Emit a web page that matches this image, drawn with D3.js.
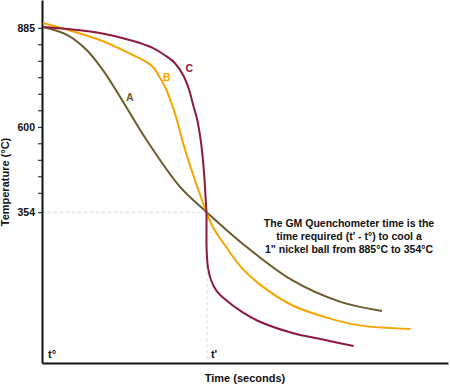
<!DOCTYPE html>
<html>
<head>
<meta charset="utf-8">
<script src="https://cdn.jsdelivr.net/npm/d3@7"></script>
<style>
  body { margin: 0; background: #fff; }
  svg { display: block; }
  text { font-family: "Liberation Sans Narrow", "Liberation Sans", Arial, sans-serif; font-weight: bold; fill: #111; }
</style>
</head>
<body>
<svg id="chart" width="450" height="385"></svg>
<script>
"use strict";

// cooling curves: [time, temperature]
const curveA = [[0.1,887],[2.5,864],[4.4,821],[6.0,763],[7.7,686],[10.3,562],[13.6,427],[16.2,355],[19.7,265],[24.6,159],[29.4,96],[33.5,70]];
const curveB = [[0.1,899],[5.7,850],[9.0,806],[10.15,789],[11.0,770],[11.55,745],[12.1,716],[12.7,673],[13.3,619],[13.9,553],[14.8,470],[16.2,355],[16.85,311],[18.0,260],[19.7,193],[21.3,150],[24.6,87],[27.9,52],[31.1,29],[36.3,18]];
const curveC = [[0.1,887],[5.7,870],[9.0,847],[10.9,827],[12.1,806],[13.1,783],[13.9,749],[14.5,706],[14.9,662],[15.3,619],[15.7,547],[15.98,461],[16.13,389],[16.2,355],[16.22,245],[16.36,193],[16.65,159],[17.15,130],[18.0,104],[19.7,67],[21.3,41],[24.6,7],[27.9,-14],[30.7,-31]];

const seriesNames = ["A", "B", "C"];
const seriesColors = ["#6b5b2c", "#f7a500", "#8c1b3b"];

const yLabelTicks = [885, 600, 354];
const yMinorTicks = [837.5, 790, 742.5, 695, 647.5, 552.5, 505, 457.5, 410];
const tZero = 0.1, tPrime = 16.25, quenchTemp = 354;

const note = [
  "The GM Quenchometer time is the",
  "time required (t' - t\u00b0) to cool a",
  "1\" nickel ball from 885\u00b0C to 354\u00b0C"
];

const svg = d3.select("#chart");

const x = d3.scaleLinear().domain([0, 40]).range([42, 448]);
const y = d3.scaleLinear().domain([-80, 965]).range([363, 0]);

// guide lines through the common crossing point
svg.append("line")
  .attr("x1", x(0)).attr("x2", x(tPrime))
  .attr("y1", y(quenchTemp)).attr("y2", y(quenchTemp))
  .attr("stroke", "#d4d4d4").attr("stroke-dasharray", "3,3");
svg.append("line")
  .attr("x1", x(tPrime)).attr("x2", x(tPrime))
  .attr("y1", y(quenchTemp)).attr("y2", y.range()[0])
  .attr("stroke", "#d4d4d4").attr("stroke-dasharray", "3,3");

// y axis
const yAxis = d3.axisLeft(y)
  .tickValues(yLabelTicks.concat(yMinorTicks))
  .tickFormat(d => yLabelTicks.includes(d) ? d : "")
  .tickSize(4)
  .tickSizeOuter(0);

const yG = svg.append("g")
  .attr("transform", "translate(" + x(0) + ",0)")
  .call(yAxis);
yG.select(".domain").attr("stroke", "#111").attr("stroke-width", 2);
yG.selectAll(".tick line").attr("stroke", "#111");
yG.selectAll(".tick text")
  .attr("x", -7).attr("dy", "0.35em")
  .style("font-family", "'Liberation Sans', Arial, sans-serif")
  .style("font-size", "10.5px").style("font-weight", "bold");

// x axis
const xAxis = d3.axisBottom(x).tickValues([]).tickSizeOuter(0);
const xG = svg.append("g")
  .attr("transform", "translate(0," + y.range()[0] + ")")
  .call(xAxis);
xG.select(".domain").attr("stroke", "#111").attr("stroke-width", 2);

// curves
const line = d3.line()
  .x(d => x(d[0]))
  .y(d => y(d[1]))
  .curve(d3.curveCatmullRom.alpha(0.5));

const allCurves = [curveA, curveB, curveC];
svg.selectAll("path.curve")
  .data(allCurves)
  .enter()
  .append("path")
  .attr("class", "curve")
  .attr("fill", "none")
  .attr("stroke", (d, i) => seriesColors[i])
  .attr("stroke-width", 2)
  .attr("d", line);

// curve letters
const labelAt = [[8.65, 685], [12.3, 743], [14.5, 769]];
svg.selectAll("text.curve-label")
  .data(seriesNames)
  .enter()
  .append("text")
  .attr("class", "curve-label")
  .attr("x", (d, i) => x(labelAt[i][0]))
  .attr("y", (d, i) => y(labelAt[i][1]))
  .attr("dy", "0.35em")
  .attr("text-anchor", "middle")
  .style("font-size", "10.5px")
  .style("fill", (d, i) => seriesColors[i])
  .text(d => d);

// t° and t'
svg.append("text")
  .attr("x", x(tZero) + 5).attr("y", 358)
  .style("font-size", "11px")
  .text("t\u00b0");
svg.append("text")
  .attr("x", x(tPrime) + 4).attr("y", 358)
  .style("font-size", "11px")
  .text("t'");

// explanation
svg.append("g").selectAll("text")
  .data(note)
  .enter()
  .append("text")
  .attr("x", 349)
  .attr("y", (d, i) => 227 + i * 13)
  .attr("text-anchor", "middle")
  .style("font-size", "10.5px")
  .text(d => d);

// axis titles
svg.append("text")
  .attr("x", 245).attr("y", 382)
  .attr("text-anchor", "middle")
  .style("font-size", "11px")
  .text("Time (seconds)");
svg.append("text")
  .attr("transform", "translate(9,182) rotate(-90)")
  .attr("text-anchor", "middle")
  .style("font-size", "11px")
  .text("Temperature (\u00b0C)");
</script>
</body>
</html>
